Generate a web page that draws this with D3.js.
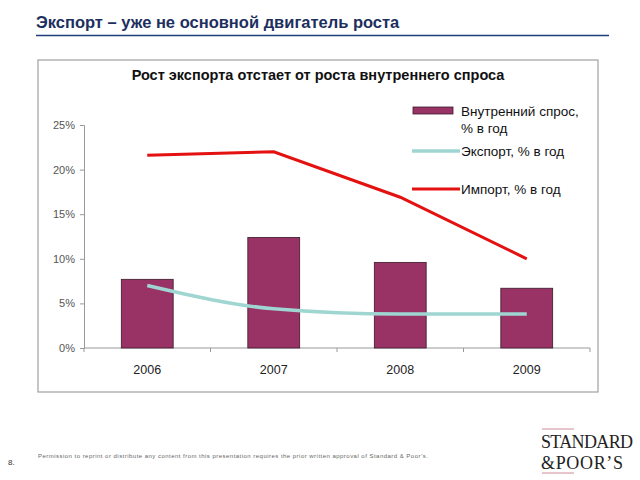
<!DOCTYPE html>
<html>
<head>
<meta charset="utf-8">
<script src="https://cdn.jsdelivr.net/npm/d3@7"></script>
<style>
  body { margin: 0; background: #fff; }
  svg { font-family: Arial, "Liberation Sans", sans-serif; }
</style>
</head>
<body>
<script>
// data
var years = ["2006", "2007", "2008", "2009"];
var domestic = [7.7, 12.4, 9.6, 6.7];   // Внутренний спрос, % в год
var exports = [7.0, 4.4, 3.8, 3.8];     // Экспорт, % в год
var imports = [21.6, 22.0, 16.9, 10.0]; // Импорт, % в год
var yTicks = [0, 5, 10, 15, 20, 25];

var svg = d3.select("body").append("svg")
    .attr("width", 640)
    .attr("height", 480);

// slide header
svg.append("text")
    .attr("x", 36).attr("y", 28)
    .attr("font-size", 16.5).attr("font-weight", "bold")
    .attr("fill", "#1c2f5e")
    .text("Экспорт – уже не основной двигатель роста");
svg.append("line")
    .attr("x1", 36).attr("x2", 609).attr("y1", 35.5).attr("y2", 35.5)
    .attr("stroke", "#1f3f7a").attr("stroke-width", 1.5);

// chart frame
svg.append("rect")
    .attr("x", 38).attr("y", 60).attr("width", 560).attr("height", 332)
    .attr("fill", "#fff").attr("stroke", "#a0a0a0").attr("stroke-width", 1.2);

svg.append("text")
    .attr("x", 318).attr("y", 80)
    .attr("text-anchor", "middle")
    .attr("font-size", 14.5).attr("font-weight", "bold")
    .attr("fill", "#111")
    .text("Рост экспорта отстает от роста внутреннего спроса");

var x = d3.scaleBand().domain(years).range([84, 590]).paddingInner(0.59).paddingOuter(0.295);
var y = d3.scaleLinear().domain([0, 25]).range([348, 125]);
var cx = d => x(d) + x.bandwidth() / 2;

// y axis
var yAxis = svg.append("g")
    .attr("transform", "translate(84,0)")
    .call(d3.axisLeft(y).tickValues(yTicks).tickSize(4).tickFormat(d => d + "%"));
yAxis.select(".domain").attr("stroke", "#999");
yAxis.selectAll(".tick line").attr("stroke", "#999");
yAxis.selectAll(".tick text").attr("font-size", 11).attr("fill", "#555")
    .attr("font-family", "Arial, 'Liberation Sans', sans-serif").attr("dx", -2);

// x axis with ticks between categories
var xAxis = svg.append("g").attr("transform", "translate(0,348)");
xAxis.append("line").attr("x1", 84).attr("x2", 590).attr("stroke", "#999");
var edges = [84].concat(years.map(d => x(d) + x.bandwidth() + x.step() * x.paddingInner() / 2));
edges[edges.length - 1] = 590;
xAxis.selectAll(".sep").data(edges).enter().append("line")
    .attr("x1", d => d).attr("x2", d => d).attr("y1", 0).attr("y2", 4)
    .attr("stroke", "#999");
xAxis.selectAll(".lbl").data(years).enter().append("text")
    .attr("x", cx).attr("y", 26)
    .attr("text-anchor", "middle").attr("font-size", 12.5).attr("fill", "#222")
    .text(d => d);

// bars
svg.selectAll(".bar").data(years).enter().append("rect")
    .attr("x", d => x(d))
    .attr("y", (d, i) => y(domestic[i]))
    .attr("width", x.bandwidth())
    .attr("height", (d, i) => y(0) - y(domestic[i]))
    .attr("fill", "#993366").attr("stroke", "#3a1a28").attr("stroke-width", 0.8);

// lines
var line = d3.line().x(d => cx(d[0])).y(d => y(d[1]));
svg.append("path")
    .attr("d", line.curve(d3.curveMonotoneX)(years.map((d, i) => [d, exports[i]])))
    .attr("fill", "none").attr("stroke", "#9fd6d2").attr("stroke-width", 3.5);
svg.append("path")
    .attr("d", line.curve(d3.curveLinear)(years.map((d, i) => [d, imports[i]])))
    .attr("fill", "none").attr("stroke", "#e3110f").attr("stroke-width", 3);

// legend
var lg = svg.append("g");
lg.append("rect").attr("x", 413).attr("y", 107).attr("width", 40).attr("height", 7)
    .attr("fill", "#993366").attr("stroke", "#3a1a28").attr("stroke-width", 0.8);
lg.append("line").attr("x1", 412).attr("x2", 460).attr("y1", 151).attr("y2", 151)
    .attr("stroke", "#9fd6d2").attr("stroke-width", 3.5);
lg.append("line").attr("x1", 412).attr("x2", 460).attr("y1", 189).attr("y2", 189)
    .attr("stroke", "#e3110f").attr("stroke-width", 3);
var legendText = [["Внутренний спрос,", 116], ["% в год", 133], ["Экспорт, % в год", 156], ["Импорт, % в год", 194]];
lg.selectAll("text").data(legendText).enter().append("text")
    .attr("x", 461).attr("y", d => d[1])
    .attr("font-size", 13.5).attr("fill", "#111")
    .text(d => d[0]);

// footer
svg.append("text").attr("x", 8).attr("y", 465).attr("font-size", 8).attr("fill", "#333").text("8.");
svg.append("text").attr("x", 38).attr("y", 458).attr("font-size", 6).attr("fill", "#666")
    .attr("textLength", 390)
    .text("Permission to reprint or distribute any content from this presentation requires the prior written approval of Standard & Poor’s.");

var logo = svg.append("g").style("font-family", "'Liberation Serif', 'DejaVu Serif', serif");
[429, 473].forEach(yy => logo.append("line")
    .attr("x1", 542).attr("x2", 574).attr("y1", yy).attr("y2", yy)
    .attr("stroke", "#c07080").attr("stroke-width", 0.8));
logo.append("text").attr("x", 541).attr("y", 448)
    .attr("font-size", 18).attr("fill", "#222").attr("textLength", 92)
    .text("STANDARD");
logo.append("text").attr("x", 541).attr("y", 469)
    .attr("font-size", 18).attr("fill", "#222").attr("textLength", 82)
    .text("&POOR’S");
</script>
</body>
</html>
